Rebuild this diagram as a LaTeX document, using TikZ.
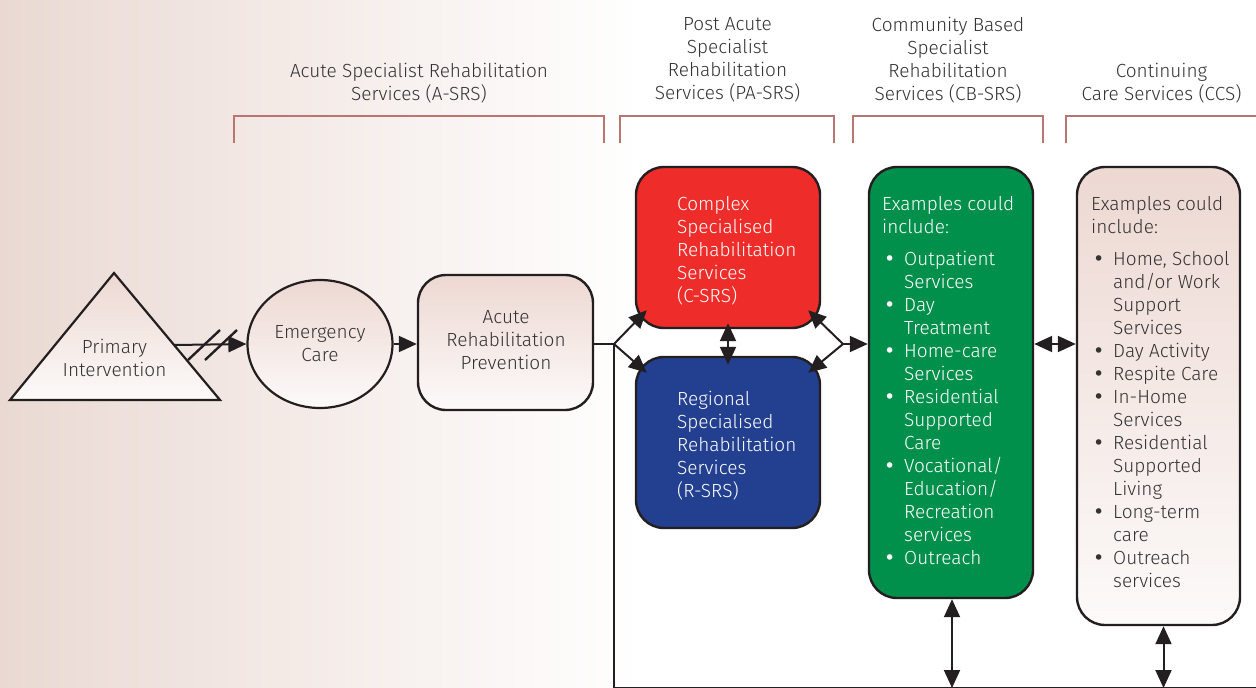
\documentclass[tikz,border=0pt]{standalone}
\usepackage{fontspec}
\setmainfont{Fira Sans Light}
\newfontfamily\dotfont{DejaVu Sans}
\usetikzlibrary{arrows.meta,shapes.geometric}

\definecolor{bgpink}{HTML}{EAD9D3}
\definecolor{boxpink}{HTML}{EDD8D2}
\definecolor{boxlight}{HTML}{FCFAF9}
\definecolor{brk}{HTML}{B97571}
\definecolor{txt}{HTML}{333333}
\definecolor{cred}{HTML}{EE2D2A}
\definecolor{cblue}{HTML}{233F8F}
\definecolor{cgreen}{HTML}{00904C}
\definecolor{edge}{HTML}{231F20}

\newcommand{\itm}[1]{\hspace*{2pt}\makebox[20pt][l]{{\dotfont •}}#1}
\newcommand{\cnt}[1]{\hspace*{22pt}#1}

\begin{document}
\begin{tikzpicture}[x=1pt,y=-1pt,
  every node/.style={font=\fontsize{19}{23}\selectfont, text=txt},
  lbl/.style={inner sep=0pt, align=center, anchor=north},
  lst/.style={inner sep=0pt, align=left, anchor=north west},
  box/.style={draw=edge, line width=2.4pt, rounded corners=28pt, inner sep=0pt},
  pale/.style={top color=boxpink, bottom color=boxlight},
  conn/.style={draw=edge, line width=2pt},
  tip/.tip={Triangle[length=18pt,width=16pt]},
  arr/.style={conn, -tip},
  darr/.style={conn, tip-tip},
  bracket/.style={draw=brk, line width=2.6pt}]

% background wash
\useasboundingbox (0,0) rectangle (1256,688);
\fill[white] (0,0) rectangle (1256,688);
\shade[left color=bgpink, right color=white] (0,0) rectangle (640,688);

% service group brackets and titles
\draw[bracket] (234,143) -- (234,116) -- (604,116) -- (604,143);
\draw[bracket] (620,143) -- (620,116) -- (834,116) -- (834,143);
\draw[bracket] (853,143) -- (853,116) -- (1043,116) -- (1043,143);
\draw[bracket] (1066,143) -- (1066,116) -- (1256,116);

\node[lbl] (hasrs) at (419,63) {Acute Specialist Rehabilitation\\Services (A-SRS)};
\node[lbl] (hpasrs) at (727.5,17) {Post Acute\\Specialist\\Rehabilitation\\Services (PA-SRS)};
\node[lbl] (hcbsrs) at (948,17) {Community Based\\Specialist\\Rehabilitation\\Services (CB-SRS)};
\node[lbl] (hccs) at (1161.5,63) {Continuing\\Care Services (CCS)};

% primary intervention triangle
\path[draw=edge, line width=2.2pt, top color=boxpink, bottom color=boxlight]
  (114,273) -- (220,400) -- (10,400) -- cycle;
\coordinate (triout) at (174,345);
\node[lbl] (prim) at (114.5,339) {Primary\\Intervention};

% pathway nodes
\node[ellipse, draw=edge, line width=2.2pt, pale, minimum width=145pt, minimum height=128pt, inner sep=0pt] (emerg) at (320,344) {};
\node[lbl] (emergt) at (320,325) {Emergency\\Care};

\node[box, pale, minimum width=175pt, minimum height=135pt] (acute) at (505.5,342.5) {};
\node[lbl] (acutet) at (506,310) {Acute\\Rehabilitation\\Prevention};

\node[box, fill=cred, minimum width=184pt, minimum height=161pt] (csrs) at (728,247.5) {};
\node[lst, text=white] (csrst) at (677,196) {Complex\\Specialised\\Rehabilitation\\Services\\(C-SRS)};

\node[box, fill=cblue, minimum width=184pt, minimum height=171pt] (rsrs) at (728,442.5) {};
\node[lst, text=white] (rsrst) at (677,391) {Regional\\Specialised\\Rehabilitation\\Services\\(R-SRS)};

\node[box, fill=cgreen, minimum width=164pt, minimum height=431pt] (cbsrs) at (951,382.5) {};
\node[lst, text=white] (cbsrst) at (882,196) {Examples could\\include:\\[9pt]
  \itm{Outpatient}\\\cnt{Services}\\
  \itm{Day}\\\cnt{Treatment}\\
  \itm{Home-care}\\\cnt{Services}\\
  \itm{Residential}\\\cnt{Supported}\\\cnt{Care}\\
  \itm{Vocational/}\\\cnt{Education/}\\\cnt{Recreation}\\\cnt{services}\\
  \itm{Outreach}};

\node[box, pale, minimum width=163pt, minimum height=458pt] (ccs) at (1158.5,396) {};
\node[lst] (ccst) at (1091,196) {Examples could\\include:\\[9pt]
  \itm{Home, School}\\\cnt{and/or Work}\\\cnt{Support}\\\cnt{Services}\\
  \itm{Day Activity}\\
  \itm{Respite Care}\\
  \itm{In-Home}\\\cnt{Services}\\
  \itm{Residential}\\\cnt{Supported}\\\cnt{Living}\\
  \itm{Long-term}\\\cnt{care}\\
  \itm{Outreach}\\\cnt{services}};

% connectors
\draw[arr] (triout) -- (emerg.west);
\draw[conn, line width=2.4pt] (188,360) -- (220,330);
\draw[conn, line width=2.4pt] (205,360) -- (237,330);
\draw[arr] (emerg.east) -- (emerg.east -| acute.west);

\coordinate (jl) at (614,344);
\coordinate (jr) at (843,344);
\coordinate (bl) at (614,688);
\coordinate (br) at (1256,688);

\draw[conn] (acute.east |- jl) -- (jl);
\draw[arr] (jl) -- ([xshift=12pt,yshift=19pt]csrs.south west);
\draw[arr] (jl) -- ([xshift=12pt,yshift=-17pt]rsrs.north west);
\draw[arr] (jr) -- ([xshift=-13pt,yshift=19pt]csrs.south east);
\draw[arr] (jr) -- ([xshift=-13pt,yshift=-17pt]rsrs.north east);
\draw[darr] ([yshift=6pt]csrs.south) -- ([yshift=-9pt]rsrs.north);
\draw[arr] (jr) -- (cbsrs.west |- jr);
\draw[darr] (cbsrs.east |- jr) -- (ccs.west |- jr);

\draw[conn] (jl) -- (bl) -- (br);
\draw[darr] ([xshift=1pt]cbsrs.south) -- ([xshift=1pt]cbsrs.south |- bl);
\draw[darr] ([xshift=5pt]ccs.south) -- ([xshift=5pt]ccs.south |- bl);
\end{tikzpicture}
\end{document}
